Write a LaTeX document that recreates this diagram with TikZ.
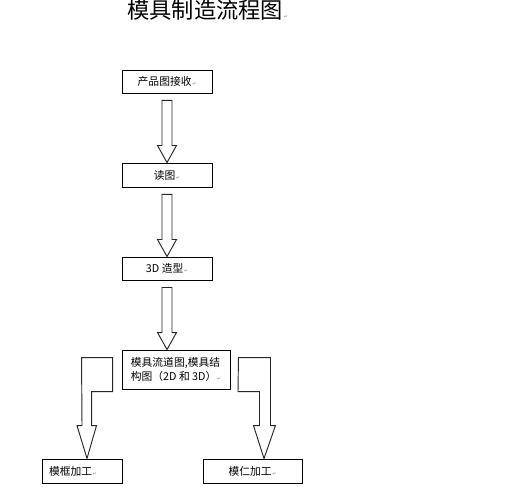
\documentclass[tikz,border=0pt]{standalone}
\usepackage{fontspec}
\setmainfont{Noto Sans CJK SC}
\newfontfamily\dejavu{DejaVu Sans}
\usetikzlibrary{calc}

\newlength{\pxu}
\setlength{\pxu}{0.03cm}
\newcommand{\retmark}{{\dejavu\color{gray}\fontsize{4}{4}\selectfont\,↵}}
\newcommand{\hollowdown}[2]{%
  \draw[hollow] ($(#1)+(-5,7)$) -- ($(#2)+(-5,-17)$) -- ($(#2)+(-9.5,-17)$) -- (#2)
    -- ($(#2)+(9.5,-17)$) -- ($(#2)+(5,-17)$) -- ($(#1)+(5,7)$) -- cycle;}

\tikzset{
  box/.style={draw, line width=0.8pt, minimum height=23\pxu, inner sep=0pt,
    font=\fontsize{9.2}{12}\selectfont},
  hollow/.style={draw=black!85, line width=0.8pt, line join=miter}
}

\begin{document}
\begin{tikzpicture}[x=0.03cm, y=-0.03cm]
\useasboundingbox (0,0) rectangle (512,487);

\node[anchor=west, inner sep=0pt, font=\fontsize{19}{19}\selectfont] (title) at (127,10) {模具制造流程图\retmark};

\node[box, minimum width=90\pxu] (receive) at (167,81.5) {产品图接收\retmark};
\node[box, minimum width=90\pxu, minimum height=24\pxu] (read) at (167,175) {读图\retmark};
\node[box, minimum width=90\pxu] (model) at (167,268.5) {3D 造型\retmark};
\node[box, minimum width=108\pxu, minimum height=39\pxu, align=left] (design) at (176,369.5)
  {模具流道图,模具结\\构图（2D 和 3D）\retmark};
\node[box, minimum width=80\pxu, minimum height=24\pxu, text width=66\pxu, align=left] (frame) at (82,471) {模框加工\retmark};
\node[box, minimum width=99\pxu, minimum height=24\pxu] (core) at (252.5,471) {模仁加工\retmark};

\hollowdown{receive.south}{read.north}
\hollowdown{read.south}{model.north}
\hollowdown{model.south}{model.south |- design.north}

\draw[hollow] ($(design.north west)+(-40,8)$) -- ++(31,0) -- ++(0,34) -- ++(-21,0) -- ++(0,34)
  -- ++(5,0) -- ($(frame.north)+(5,0)$) -- ++(-10,-33) -- ++(5,0) -- cycle;
\draw[hollow] ($(design.north east)+(8,8)$) -- ++(32,0) -- ++(0,68) -- ++(5,0)
  -- ($(core.north)+(11.5,0)$) -- ++(-10.5,-33) -- ++(6,0) -- ++(0,-34) -- ++(-21.5,0) -- cycle;
\end{tikzpicture}
\end{document}
